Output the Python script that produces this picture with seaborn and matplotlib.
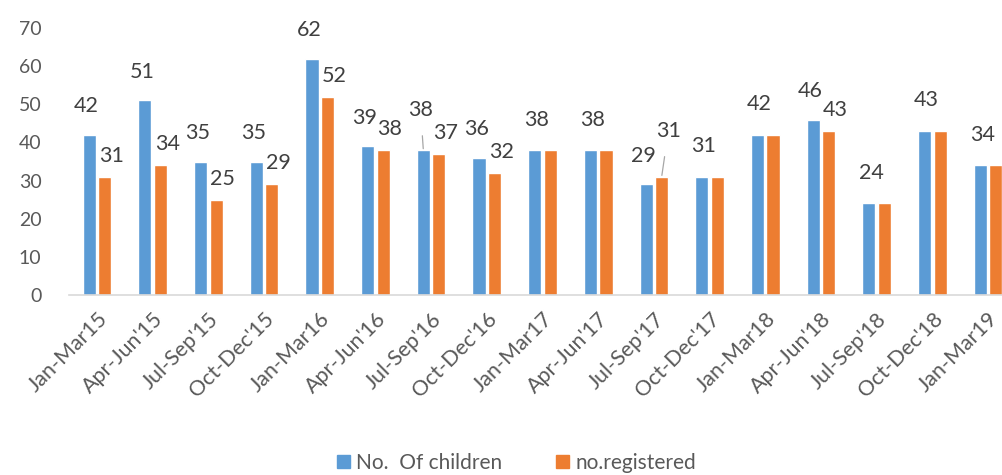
import numpy as np
import pandas as pd
import seaborn as sns
import matplotlib.pyplot as plt

# Chart data
quarters = ["Jan-Mar15", "Apr-Jun'15", "Jul-Sep'15", "Oct-Dec'15", "Jan-Mar16",
            "Apr-Jun'16", "Jul-Sep'16", "Oct-Dec'16", "Jan-Mar17", "Apr-Jun'17",
            "Jul-Sep'17", "Oct-Dec'17", "Jan-Mar18", "Apr-Jun'18", "Jul-Sep'18",
            "Oct-Dec'18", "Jan-Mar19"]
children = [42, 51, 35, 35, 62, 39, 38, 36, 38, 38, 29, 31, 42, 46, 24, 43, 34]
registered = [31, 34, 25, 29, 52, 38, 37, 32, 38, 38, 31, 31, 42, 43, 24, 43, 34]
series_names = ["No.  Of children", "no.registered"]
colors = ["#5B9BD5", "#ED7D31"]

df = pd.DataFrame({
    "quarter": quarters * 2,
    "value": children + registered,
    "series": [series_names[0]] * len(quarters) + [series_names[1]] * len(quarters),
})

sns.set_style("white")
plt.rcParams['font.family'] = ['Lato', 'DejaVu Sans']

fig = plt.figure(figsize=(10.03, 4.75), dpi=100)
ax = fig.add_axes([0.069, 0.379, 0.931, 0.562])

sns.barplot(data=df, x="quarter", y="value", hue="series", palette=colors,
            width=0.56, gap=0.16, saturation=1, ax=ax, legend=False)

ax.set_ylim(0, 70)
ax.set_xlim(-0.5, 16.27)
ax.set_yticks(range(0, 71, 10))
ax.set_xlabel("")
ax.set_ylabel("")
for s in ["top", "right", "left"]:
    ax.spines[s].set_visible(False)
ax.spines["bottom"].set_color("#D9D9D9")
ax.spines["bottom"].set_linewidth(1.2)
ax.tick_params(axis="y", labelsize=14, colors="#595959", length=0, pad=20)
ax.tick_params(axis="x", labelsize=15.5, colors="#595959", length=0, pad=10)
plt.setp(ax.get_xticklabels(), rotation=45, ha="right", rotation_mode="anchor")

# Data labels (two labels were dragged up in the original, with leader lines)
lifted = {6: 0, 10: 1}
blue_bars = ax.containers[0]
orange_bars = ax.containers[1]
lbl = dict(ha="center", va="center", fontsize=15.5, color="#404040")
leader = dict(arrowstyle="-", color="#A6A6A6", lw=0.9, shrinkA=9, shrinkB=1)
for i, (b, o) in enumerate(zip(blue_bars, orange_bars)):
    bx = b.get_x() + b.get_width() / 2
    ox = o.get_x() + o.get_width() / 2
    if children[i] == registered[i]:
        ax.text((bx + ox) / 2 - 0.1, children[i] + 8, str(children[i]), **lbl)
        continue
    if lifted.get(i) == 0:
        ax.annotate(str(children[i]), xy=(bx, children[i]),
                    xytext=(bx - 0.05, children[i] + 10.5), arrowprops=leader, **lbl)
    else:
        ax.text(bx - 0.05, children[i] + 7.5, str(children[i]), **lbl)
    if lifted.get(i) == 1:
        ax.annotate(str(registered[i]), xy=(ox, registered[i]),
                    xytext=(ox + 0.12, registered[i] + 12), arrowprops=leader, **lbl)
    else:
        ax.text(ox + 0.12, registered[i] + 5.5, str(registered[i]), **lbl)

# Legend
handles = [plt.Rectangle((0, 0), 1, 1, color=c) for c in colors]
fig.legend(handles, series_names, loc="center", bbox_to_anchor=(0.515, 0.025),
           ncol=2, frameon=False, fontsize=15, handlelength=0.6, handleheight=0.6,
           handletextpad=0.3, columnspacing=2.6, labelcolor="#595959")

plt.savefig("out.png", dpi=100)
